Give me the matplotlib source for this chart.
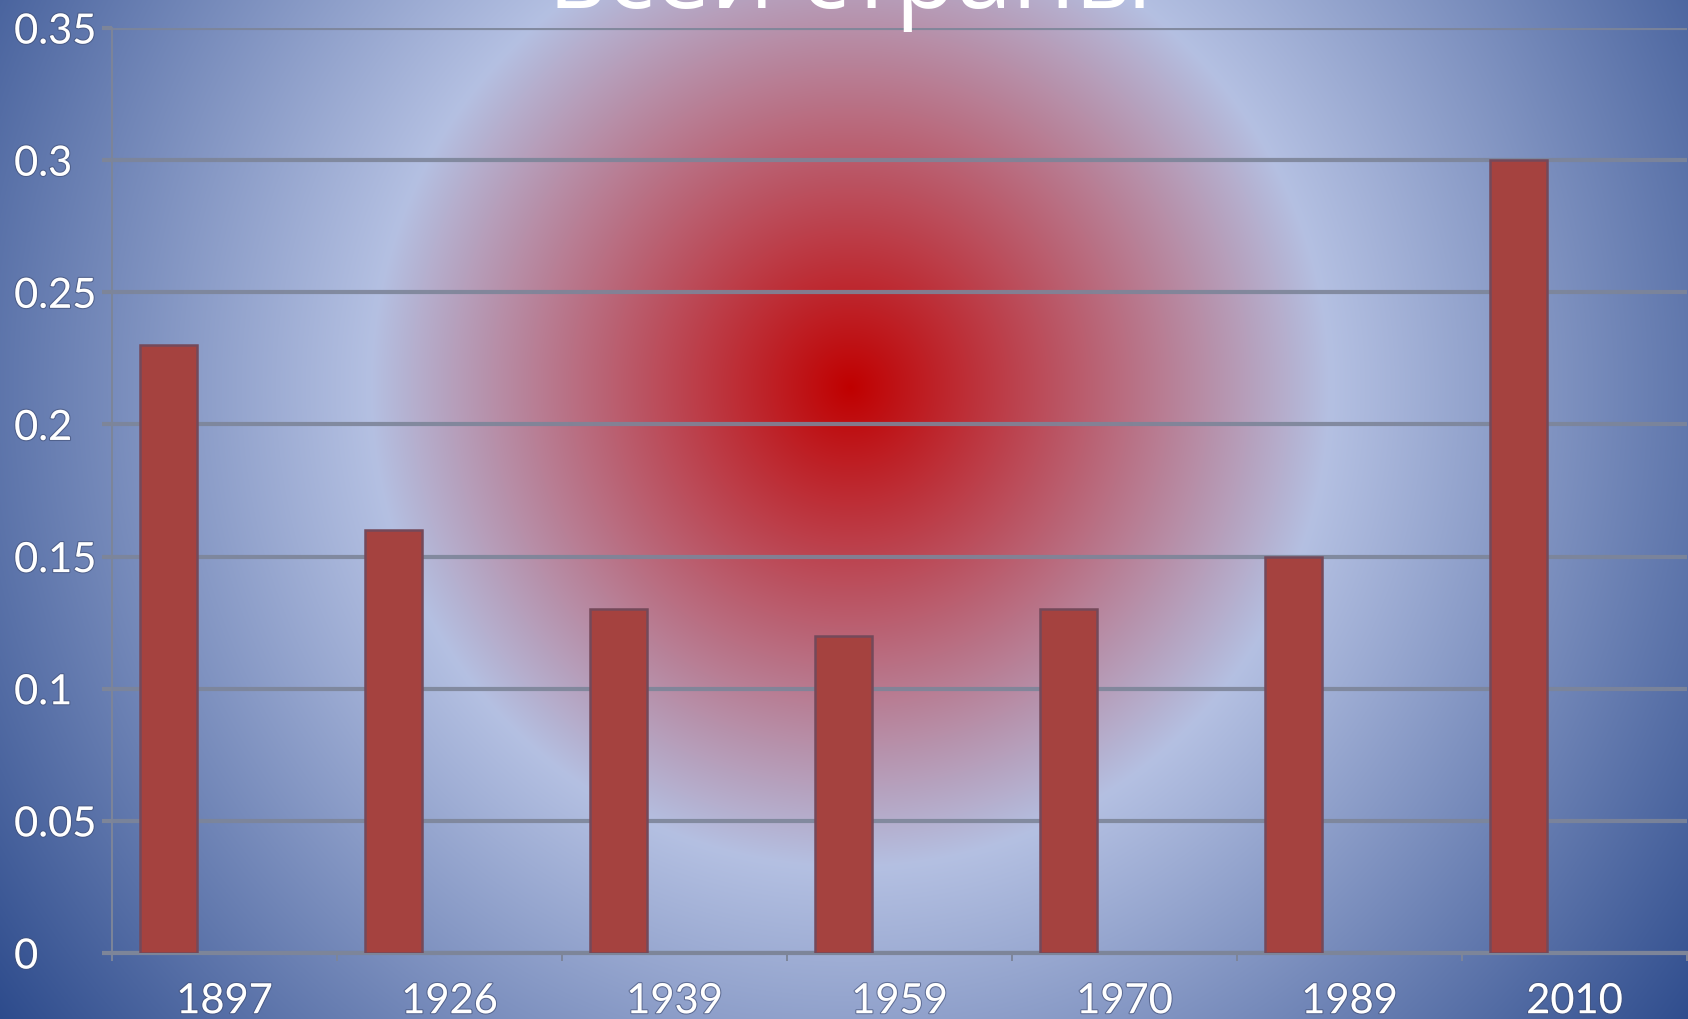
import numpy as np
import matplotlib
matplotlib.use("Agg")
from matplotlib import pyplot as plt
from matplotlib import patheffects as pe

# share of the population by census year
years = ['1897', '1926', '1939', '1959', '1970', '1989', '2010']
shares = [0.23, 0.16, 0.13, 0.12, 0.13, 0.15, 0.30]
ytick_values = [0, 0.05, 0.1, 0.15, 0.2, 0.25, 0.3, 0.35]
ytick_labels = ['0', '0.05', '0.1', '0.15', '0.2', '0.25', '0.3', '0.35']
title = 'всей страны'

W, H = 1688, 1020
fig = plt.figure(figsize=(W / 100, H / 100), dpi=100)

# radial background: red core -> light blue ring -> dark blue edges
yy, xx = np.mgrid[0:H, 0:W]
r = np.hypot(xx - 850, yy - 388)
stops = [0, 480, 1060]
cols = np.array([[192, 0, 0], [180, 192, 226], [45, 75, 140]]) / 255.0
bg = np.dstack([np.interp(r, stops, cols[:, k]) for k in range(3)])
bg_ax = fig.add_axes([0, 0, 1, 1], zorder=0)
bg_ax.imshow(bg, aspect='auto', interpolation='bilinear')
bg_ax.axis('off')

left, right, top, bottom = 112, 1687, 29, 954
ax = fig.add_axes([left / W, (H - bottom) / H, (right - left) / W, (bottom - top) / H], zorder=1)
ax.patch.set_alpha(0)

grid_col = '#7d8599'
x = np.arange(len(years))
ax.bar(x - 0.25, shares, width=0.253, color='#a5423f', edgecolor='#74495a', linewidth=1.8, zorder=3)

ax.set_xlim(-0.5, len(years) - 0.5)
ax.set_ylim(0, 0.35)
ax.set_yticks(ytick_values)
ax.set_yticklabels(ytick_labels)
ax.yaxis.grid(True, color=grid_col, linewidth=3.0, alpha=0.9, zorder=1)
ax.set_axisbelow(True)

for s in ['top', 'right']:
    ax.spines[s].set_visible(False)
ax.spines['left'].set_color(grid_col)
ax.spines['left'].set_linewidth(1.4)
ax.spines['bottom'].set_color(grid_col)
ax.spines['bottom'].set_linewidth(3.0)

ax.tick_params(axis='y', length=7, width=3.0, color=grid_col, pad=63.5,
               labelsize=30, labelcolor='white')
for lab in ax.get_yticklabels():
    lab.set_horizontalalignment('left')

ax.set_xticks(x)
ax.set_xticklabels(years)
ax.set_xticks(np.arange(-0.5, len(years)), minor=True)
ax.tick_params(axis='x', which='major', length=0, pad=21, labelsize=30, labelcolor='white')
ax.tick_params(axis='x', which='minor', length=6, width=1.4, color=grid_col)

shadow = [pe.withStroke(linewidth=1.6, foreground=(0.25, 0.3, 0.45, 0.6))]
for lab in ax.get_xticklabels() + ax.get_yticklabels():
    lab.set_fontfamily(['Lato', 'DejaVu Sans'])
    lab.set_path_effects(shadow)

fig.text(851 / W, (H - 8) / H, title, ha='center', va='baseline', color='white',
         fontsize=72, family=['Open Sans', 'DejaVu Sans'], zorder=5)

fig.savefig('out.png', dpi=100)
